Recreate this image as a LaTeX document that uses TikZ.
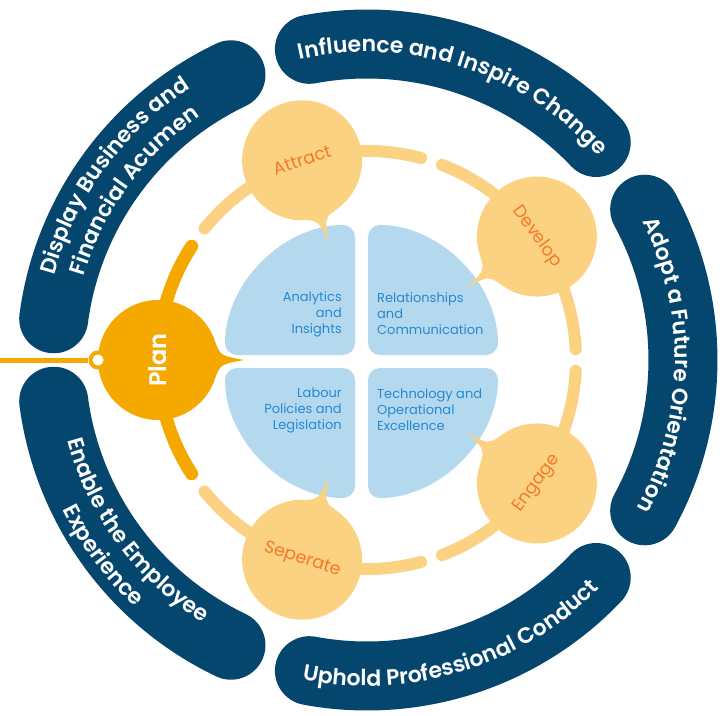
\documentclass[tikz,border=0pt]{standalone}
\usepackage{fontspec}
\setmainfont{Poppins}[BoldFont={Poppins SemiBold}]
\usetikzlibrary{calc,decorations.text}

\definecolor{navy}{HTML}{04466E}
\definecolor{planorange}{HTML}{F5A800}
\definecolor{paleyellow}{HTML}{FAD282}
\definecolor{quadblue}{HTML}{B4D9EE}
\definecolor{quadtext}{HTML}{2489D3}
\definecolor{stagetext}{HTML}{F37B2B}

\newcommand\bandfont{\bfseries\fontsize{22}{22}\selectfont}

\tikzset{
  band/.style={draw=navy, line width=69pt, line cap=round},
  ring/.style={draw=paleyellow, line width=12pt, line cap=round},
  planring/.style={draw=planorange, line width=13pt, line cap=round},
  stage/.style={circle, fill=paleyellow, minimum size=120pt, inner sep=0pt, text=stagetext, font=\fontsize{17.5}{17.5}\selectfont},
  quad/.style={fill=quadblue, rounded corners=12pt},
  quadlabel/.style={text=quadtext, font=\fontsize{13}{16}\selectfont, inner sep=0pt},
  bandtext/.style={decorate, decoration={text along path, text align=center, text color=white}}
}

\begin{document}
\begin{tikzpicture}[x=1pt, y=1pt]
\useasboundingbox (-367,-355) rectangle (360,360);

% outer competency bands
\draw[band] (172.5:316) arc[start angle=172.5, end angle=115.5, radius=316pt];
\draw[band] (100.5:316) arc[start angle=100.5, end angle=43.5, radius=316pt];
\draw[band] (28.5:316) arc[start angle=28.5, end angle=-28.5, radius=316pt];
\draw[band] (-43.5:316) arc[start angle=-43.5, end angle=-100.5, radius=316pt];
\draw[band] (187.5:316) arc[start angle=187.5, end angle=244.5, radius=316pt];

% band labels
\path[bandtext, decoration={text={|\bandfont|Display Business and}}] (180:324) arc[start angle=180, end angle=108, radius=324pt];
\path[bandtext, decoration={text={|\bandfont|Financial Acumen}}] (180:295) arc[start angle=180, end angle=108, radius=295pt];
\path[bandtext, decoration={text={|\bandfont|Influence and Inspire Change}}] (112:308) arc[start angle=112, end angle=32, radius=308pt];
\path[bandtext, decoration={text={|\bandfont|Adopt a Future Orientation}}] (39:308) arc[start angle=39, end angle=-41, radius=308pt];
\path[bandtext, decoration={text={|\bandfont|Uphold Professional Conduct}}] (-113:326) arc[start angle=-113, end angle=-33, radius=326pt];
\path[bandtext, decoration={text={|\bandfont|Enable the Employee}}] (180:310) arc[start angle=180, end angle=253, radius=310pt];
\path[bandtext, decoration={text={|\bandfont|Experience}}] (180:339) arc[start angle=180, end angle=253, radius=339pt];

% lifecycle ring
\draw[planring] (147:209) arc[start angle=147, end angle=213, radius=209pt];
\draw[ring] (75:209) arc[start angle=75, end angle=141, radius=209pt];
\draw[ring] (3:209) arc[start angle=3, end angle=69, radius=209pt];
\draw[ring] (-69:209) arc[start angle=-69, end angle=-3, radius=209pt];
\draw[ring] (-141:209) arc[start angle=-141, end angle=-75, radius=209pt];

% centre quadrants
\fill[quad] (-12,5) -- (-12,135) arc[start angle=90, end angle=180, radius=130pt] -- cycle;
\fill[quad] (1,5) -- (131,5) arc[start angle=0, end angle=90, radius=130pt] -- cycle;
\fill[quad] (-12,-8) -- (-142,-8) arc[start angle=180, end angle=270, radius=130pt] -- cycle;
\fill[quad] (1,-8) -- (1,-138) arc[start angle=270, end angle=360, radius=130pt] -- cycle;

\node[quadlabel, anchor=east, align=right] (ana) at (-25,46) {Analytics\\and\\Insights};
\node[quadlabel, anchor=west, align=left] (rel) at (10,46) {Relationships\\and\\Communication};
\node[quadlabel, anchor=east, align=right] (lab) at (-25,-50) {Labour\\Policies and\\Legislation};
\node[quadlabel, anchor=west, align=left] (tec) at (10,-50) {Technology and\\Operational\\Excellence};

% lifecycle stages
\node[circle, fill=planorange, minimum size=120pt, inner sep=0pt, text=white, font=\bfseries\fontsize{24}{24}\selectfont, rotate=90] (plan) at (180:209) {Plan};
\node[stage, rotate=18] (att) at (108:210) {Attract};
\node[stage, rotate=-54] (dev) at (36:210) {Develop};
\node[stage, rotate=54] (eng) at (-36:210) {Engage};
\node[stage, rotate=-18] (sep) at (-108:210) {Seperate};

% speech tails
\fill[planorange] ($(plan.center)+(16:60)$) .. controls ($(plan.center)+(4:63)$) .. ($(plan.center)+(0:86)$) .. controls ($(plan.center)+(-4:63)$) .. ($(plan.center)+(-16:60)$) -- cycle;
\fill[paleyellow] ($(att.center)+(302:60)$) .. controls ($(att.center)+(291:63)$) .. ($(att.center)+(288:86)$) .. controls ($(att.center)+(285:63)$) .. ($(att.center)+(274:60)$) -- cycle;
\fill[paleyellow] ($(dev.center)+(230:60)$) .. controls ($(dev.center)+(219:63)$) .. ($(dev.center)+(216:86)$) .. controls ($(dev.center)+(213:63)$) .. ($(dev.center)+(202:60)$) -- cycle;
\fill[paleyellow] ($(eng.center)+(158:60)$) .. controls ($(eng.center)+(147:63)$) .. ($(eng.center)+(144:86)$) .. controls ($(eng.center)+(141:63)$) .. ($(eng.center)+(130:60)$) -- cycle;
\fill[paleyellow] ($(sep.center)+(86:60)$) .. controls ($(sep.center)+(75:63)$) .. ($(sep.center)+(72:86)$) .. controls ($(sep.center)+(69:63)$) .. ($(sep.center)+(58:60)$) -- cycle;

% plan connector
\node[circle, draw=planorange, fill=white, line width=4pt, minimum size=15pt, inner sep=0pt] (pdot) at ($(plan.center)+(180:60)$) {};
\coordinate (lstart) at (-367,0);
\draw[planorange, line width=5pt] (lstart) -- (pdot);
\end{tikzpicture}
\end{document}
